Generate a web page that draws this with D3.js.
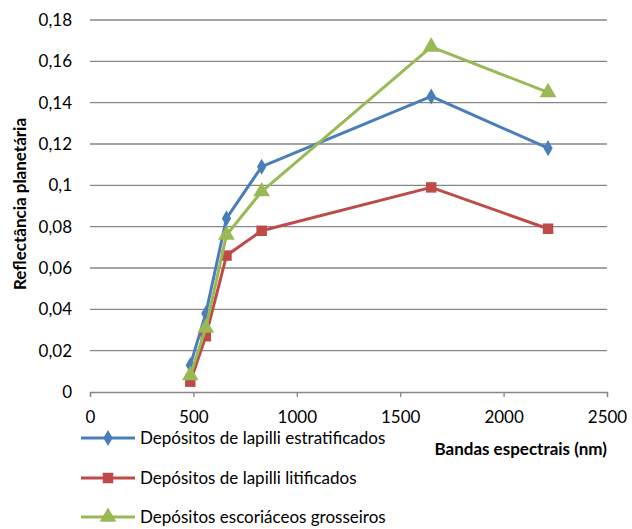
<!DOCTYPE html>
<html><head><meta charset="utf-8">
<script src="https://cdn.jsdelivr.net/npm/d3@7"></script>
<style>body{margin:0;background:#fff}text{font-family:Lato,"Open Sans",sans-serif}</style>
</head><body><svg id="c" width="632" height="529"></svg>
<script>
const bands = [485, 560, 660, 830, 1650, 2215];
const seriesNames = ["Depósitos de lapilli estratificados","Depósitos de lapilli litificados","Depósitos escoriáceos grosseiros"];
const estratificados = [0.013, 0.038, 0.084, 0.109, 0.143, 0.118];
const litificados = [0.005, 0.027, 0.066, 0.078, 0.099, 0.079];
const escoriaceos = [0.008, 0.031, 0.076, 0.097, 0.167, 0.145];
const xTicks = [0, 500, 1000, 1500, 2000, 2500];
const yTicks = [0, 0.02, 0.04, 0.06, 0.08, 0.1, 0.12, 0.14, 0.16, 0.18];
const colors = ["#4A7EBB", "#BE4B48", "#98B954"];
const markers = [d3.symbolDiamond, d3.symbolSquare, d3.symbolTriangle];
const markerSizes = [75, 110, 120];

const svg = d3.select("#c");
const x = d3.scaleLinear().domain([0, 2500]).range([90, 607]);
const y = d3.scaleLinear().domain([0, 0.18]).range([392, 20]);
const fmt = v => String(v).replace(".", ",");

// gridlines
svg.append("g").selectAll("line").data(yTicks.filter(v => v > 0)).join("line")
  .attr("x1", 90).attr("x2", 607).attr("y1", d => y(d)).attr("y2", d => y(d))
  .attr("stroke", "#868686").attr("stroke-width", 1.3);

// y labels
svg.append("g").selectAll("text").data(yTicks).join("text")
  .attr("x", 72).attr("y", d => y(d)).attr("dy", "0.35em").attr("text-anchor", "end")
  .attr("font-size", 17).attr("fill", "#000").text(fmt);

// x axis
const xa = svg.append("g").attr("transform", "translate(0,392)")
  .call(d3.axisBottom(x).tickValues(xTicks).tickSize(5).tickPadding(14).tickFormat(d => d));
xa.select(".domain").attr("stroke", "#868686").attr("stroke-width", 1.3);
xa.selectAll(".tick line").attr("stroke", "#868686").attr("stroke-width", 1.3);
xa.selectAll(".tick text").attr("font-size", 17).attr("fill", "#000").attr("font-family", "Lato, sans-serif");

// axis titles
svg.append("text").attr("transform", "translate(26,204) rotate(-90)").attr("text-anchor", "middle")
  .attr("font-size", 17).attr("font-weight", "bold").text("Reflectância planetária");
svg.append("text").attr("x", 607).attr("y", 449).attr("dy", "0.35em").attr("text-anchor", "end")
  .attr("font-size", 17).attr("font-weight", "bold").text("Bandas espectrais (nm)");

const data = [estratificados, litificados, escoriaceos];
const line = d3.line().x((d, i) => x(bands[i])).y(d => y(d));
data.forEach((vals, s) => {
  const g = svg.append("g");
  g.append("path").datum(vals).attr("d", line).attr("fill", "none")
    .attr("stroke", colors[s]).attr("stroke-width", 3).attr("stroke-linejoin", "round");
  g.selectAll("path.m").data(vals).join("path").attr("class", "m")
    .attr("transform", (d, i) => `translate(${x(bands[i])},${y(d)})`)
    .attr("d", d3.symbol(markers[s], markerSizes[s])).attr("fill", colors[s]);
});

// legend
const ly = [438, 478, 517];
seriesNames.forEach((n, s) => {
  const g = svg.append("g");
  g.append("line").attr("x1", 81).attr("x2", 135).attr("y1", ly[s]).attr("y2", ly[s])
    .attr("stroke", colors[s]).attr("stroke-width", 3);
  g.append("path").attr("transform", `translate(108,${ly[s]})`)
    .attr("d", d3.symbol(markers[s], markerSizes[s])).attr("fill", colors[s]);
  g.append("text").attr("x", 140).attr("y", ly[s]).attr("dy", "0.35em")
    .attr("font-size", 17).text(n);
});
</script></body></html>
